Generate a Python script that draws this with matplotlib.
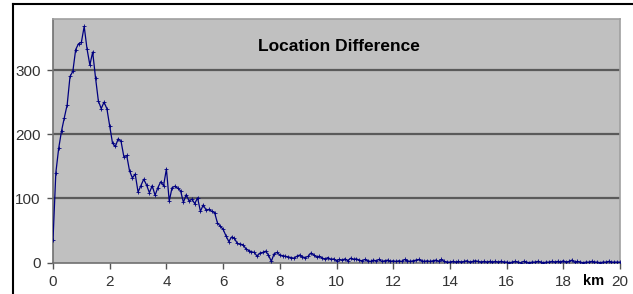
import numpy as np
import matplotlib.pyplot as plt
from matplotlib.lines import Line2D

plt.rcParams['font.family'] = ['Liberation Sans', 'DejaVu Sans']

# distance bins in km (0.1 km step)
km = np.round(np.arange(0, 20.05, 0.1), 1)

counts_0_5 = [35, 140, 178, 205, 226, 246, 290, 298, 332, 341,
              343, 368, 333, 308, 328, 288, 252, 240, 250, 240,
              213, 186, 181, 193, 189, 165, 167, 143, 132, 138,
              110, 120, 130, 121, 109, 120, 105, 117, 126, 120,
              146, 96, 117, 119, 116, 112, 94, 106, 96, 99]
counts_5_10 = [92, 101, 80, 90, 82, 83, 80, 78, 62, 57,
               52, 42, 33, 40, 38, 30, 29, 28, 22, 19,
               17, 16, 10, 15, 16, 18, 12, 2, 14, 16,
               12, 11, 10, 9, 8, 7, 10, 12, 9, 8,
               10, 15, 12, 9, 10, 7, 6, 8, 5, 6]
counts_10_15 = [3, 5, 4, 6, 3, 7, 5, 6, 4, 3,
                5, 3, 2, 4, 3, 5, 2, 3, 4, 2,
                3, 2, 3, 2, 5, 3, 2, 3, 4, 5,
                3, 2, 3, 2, 3, 4, 2, 5, 2, 1,
                1, 2, 1, 2, 1, 2, 3, 1, 2, 3]
counts_15_20 = [2, 1, 2, 1, 2, 1, 2, 1, 2, 1,
                1, 0, 1, 2, 1, 0, 2, 1, 0, 1,
                1, 2, 1, 0, 1, 1, 2, 1, 2, 1,
                3, 1, 2, 4, 1, 2, 1, 0, 1, 1,
                2, 1, 1, 0, 1, 1, 2, 1, 1, 1, 1]
counts = counts_0_5 + counts_5_10 + counts_10_15 + counts_15_20

W, H = 633, 294
fig = plt.figure(figsize=(W / 100, H / 100), dpi=100)
ax = fig.add_axes([53 / W, 31.3 / H, 567 / W, 244 / H])

# chart frame: only left and top edges are visible in the crop
fig.add_artist(Line2D([12.5 / W, 12.5 / W], [0, 1 - 3.5 / H],
                      transform=fig.transFigure, color='black', lw=1.5))
fig.add_artist(Line2D([12.5 / W, 1], [1 - 3.5 / H, 1 - 3.5 / H],
                      transform=fig.transFigure, color='black', lw=1.5))

ax.set_facecolor('#c0c0c0')
for y in [100, 200, 300]:
    ax.axhline(y, color='#5a5a5a', linewidth=1.6, zorder=1)

ax.plot(km, counts, color='#000080', linewidth=0.9, marker='+',
        markersize=2.5, markeredgewidth=0.6, zorder=3)

ax.set_xlim(0, 20)
ax.set_ylim(0, 380)
ax.set_xticks(range(0, 21, 2))
ax.set_yticks([0, 100, 200, 300])

for side in ['top', 'right']:
    ax.spines[side].set_color('#a0a0a0')
    ax.spines[side].set_linewidth(1.2)
for side in ['left', 'bottom']:
    ax.spines[side].set_color('#707070')
    ax.spines[side].set_linewidth(1.2)

ax.tick_params(axis='both', direction='out', length=4, width=1,
               color='#555555', labelsize=11, labelcolor='#333333')
ax.tick_params(axis='x', pad=5)
ax.tick_params(axis='y', pad=5)

ax.text(0.505, 0.885, 'Location Difference', transform=ax.transAxes,
        ha='center', va='center', fontsize=12.5, fontweight='bold')
fig.text(594 / W, 1 - 281 / H, 'km', ha='center', va='center',
         fontsize=10.5, fontweight='bold')

fig.savefig('out.png', dpi=100)
